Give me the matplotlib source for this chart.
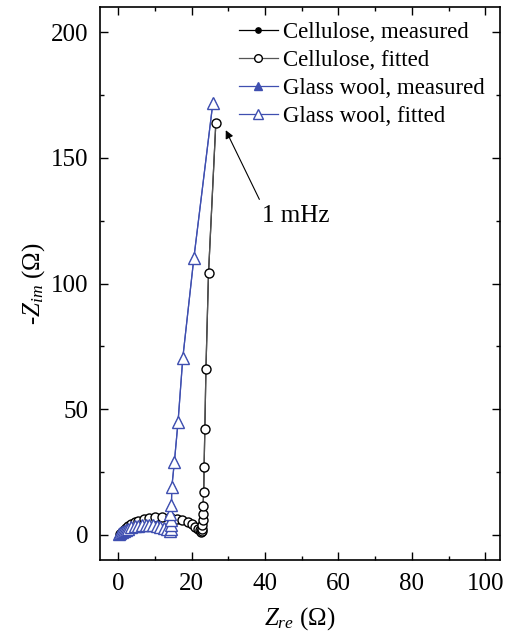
import matplotlib
matplotlib.use("Agg")
import matplotlib.pyplot as plt

plt.rcParams['font.family'] = ['Liberation Serif', 'DejaVu Serif']
plt.rcParams['mathtext.fontset'] = 'custom'
plt.rcParams['mathtext.rm'] = 'Liberation Serif'
plt.rcParams['mathtext.it'] = 'Liberation Serif:italic'

# Cellulose (measured and fitted share the same points)
cel_re = [0.5, 1.0, 1.5, 2.0, 2.7, 3.5, 4.5, 5.5, 7.0, 8.5, 10.0, 12.0, 14.0, 16.0, 17.5,
          19.0, 20.0, 21.0, 21.7, 22.2, 22.5, 22.7, 22.8, 22.9, 23.0, 23.0, 23.1, 23.3,
          23.4, 23.6, 23.9, 24.6, 26.6]
cel_im = [0.3, 1.2, 2.0, 2.8, 3.5, 4.3, 5.0, 5.6, 6.2, 6.7, 7.0, 7.2, 7.0, 6.5, 5.8,
          5.0, 4.2, 3.3, 2.5, 1.8, 1.3, 1.5, 2.5, 4.0, 6.0, 8.5, 11.5, 17.0,
          27.0, 42.0, 66.0, 104.0, 164.0]

# Glass wool
gw_re = [0.3, 0.6, 1.0, 1.5, 2.0, 2.7, 3.5, 4.5, 5.5, 6.5, 7.5, 8.5, 9.5, 10.5, 11.5,
         12.5, 13.3, 14.0, 14.3, 14.3, 14.4, 14.2, 14.5, 14.6, 15.3, 16.3, 17.6, 20.6, 25.8]
gw_im = [0.2, 0.6, 1.0, 1.5, 2.0, 2.5, 3.0, 3.4, 3.7, 3.9, 4.0, 4.0, 3.9, 3.6, 3.2,
         2.7, 2.2, 1.7, 2.5, 4.0, 6.0, 8.5, 12.0, 19.0, 29.0, 45.0, 70.5, 110.0, 172.0]

blue = '#3f4fb0'

fig = plt.figure(figsize=(5.07, 6.4), dpi=100)
ax = fig.add_axes([0.197, 0.125, 0.789, 0.864])

ax.plot(cel_re, cel_im, '-o', color='black', lw=0.9, ms=4.5,
        label='Cellulose, measured')
ax.plot(cel_re, cel_im, '-o', color='#555555', lw=0.9, ms=6.5, mfc='white',
        mec='black', mew=1.0, label='Cellulose, fitted')
ax.plot(gw_re, gw_im, '-^', color=blue, lw=0.9, ms=7,
        label='Glass wool, measured')
ax.plot(gw_re, gw_im, '-^', color=blue, lw=0.9, ms=9, mfc='white',
        mec=blue, mew=1.0, label='Glass wool, fitted')

ax.annotate('1 mHz', xy=(29.3, 161), xytext=(39.3, 127), fontsize=18,
            va='center', ha='left',
            arrowprops=dict(arrowstyle='-|>', color='black', lw=0.8,
                            relpos=(0.0, 0.95), shrinkA=2, shrinkB=0,
                            mutation_scale=12))

ax.set_xlim(-5, 104)
ax.set_ylim(-10, 210)
ax.set_xticks([0, 20, 40, 60, 80, 100])
ax.set_xticks([10, 30, 50, 70, 90], minor=True)
ax.set_yticks([0, 50, 100, 150, 200])
ax.set_yticks([25, 75, 125, 175], minor=True)
ax.tick_params(which='both', direction='in', top=True, right=True,
               labelsize=18, width=1.0)
ax.tick_params(which='major', length=6)
ax.tick_params(which='minor', length=3)
ax.tick_params(axis='x', pad=9)
ax.tick_params(axis='y', pad=8)
for s in ax.spines.values():
    s.set_linewidth(1.2)

ax.set_xlabel('$Z_{re}$ (Ω)', fontsize=18, labelpad=8)
ax.set_ylabel('-$Z_{im}$ (Ω)', fontsize=18, labelpad=3)

ax.legend(loc='upper right', frameon=False, fontsize=16.5, handlelength=1.7,
          handletextpad=0.25, labelspacing=0.3, borderaxespad=0.25,
          markerscale=0.85)

fig.savefig('out.png', dpi=100)
